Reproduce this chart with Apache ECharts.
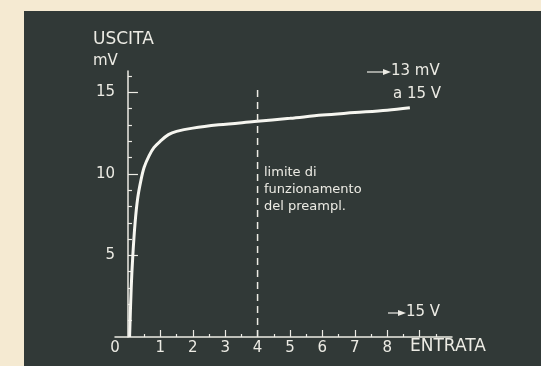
<!DOCTYPE html>
<html>
<head>
<meta charset="utf-8">
<script src="https://cdn.jsdelivr.net/npm/echarts@6/dist/echarts.min.js"></script>
<style>
  html, body { margin: 0; padding: 0; background: #f5ead2; }
  #panel { position: absolute; left: 24px; top: 11px; width: 517px; height: 355px; background: #313937; }
  #chart { position: absolute; left: 0; top: 0; width: 541px; height: 366px; }
</style>
</head>
<body>
<div id="panel"></div>
<div id="chart"></div>
<script>
// Input voltage (V) against output (mV) of the preamplifier
const entrata = [0.05, 0.1, 0.15, 0.22, 0.3, 0.4, 0.5, 0.65, 0.8, 1.0, 1.25, 1.5, 2.0, 2.8, 3.9, 5.0, 6.0, 7.0, 8.0, 8.7];
const uscita  = [0, 3, 5, 7, 8.5, 9.6, 10.4, 11.1, 11.6, 12.0, 12.4, 12.6, 12.8, 13.0, 13.2, 13.4, 13.6, 13.75, 13.9, 14.05];

// Operating limit of the preamplifier
const limiteX = 4;
const limiteTop = 15.3;

// Axis ticks and labels
const xLabels = [0, 1, 2, 3, 4, 5, 6, 7, 8];
const xMajorTicks = [1, 2, 3, 4, 5, 6, 7, 8, 9];
const xMinorTicks = [0.5, 1.5, 2.5, 3.5, 4.5, 5.5, 6.5, 7.5, 8.5, 9.5];
const yLabels = [5, 10, 15];
const yMinorTicks = [1, 2, 3, 4, 6, 7, 8, 9, 11, 12, 13, 14, 16];

const ink = '#ecebe4';
const font = 'DejaVu Sans';

const chart = echarts.init(document.getElementById('chart'), null, { renderer: 'canvas' });

const axisText = { color: ink, fontFamily: font, fontSize: 15 };

chart.setOption({
  backgroundColor: 'transparent',
  animation: false,
  grid: { left: 115, right: 89, top: 71, bottom: 29 },
  xAxis: [
    {
      type: 'value', min: -0.4, max: 10, position: 'bottom',
      axisLine: { lineStyle: { color: ink, width: 1.5 } },
      axisTick: { inside: true, length: 7, customValues: xMajorTicks, lineStyle: { color: ink, width: 1.2 } },
      axisLabel: Object.assign({
        customValues: xLabels, margin: 4,
        formatter: v => v === 0 ? '{z|0}' : String(v),
        rich: { z: { padding: [0, 26, 0, 0], color: ink, fontFamily: font, fontSize: 15 } }
      }, axisText),
      splitLine: { show: false }
    },
    {
      type: 'value', min: -0.4, max: 10, position: 'bottom',
      axisLine: { show: false },
      axisTick: { inside: true, length: 3, customValues: xMinorTicks, lineStyle: { color: ink, width: 1.2 } },
      axisLabel: { show: false },
      splitLine: { show: false }
    }
  ],
  yAxis: [
    {
      type: 'value', min: 0, max: 16.3, position: 'left',
      axisLine: { lineStyle: { color: ink, width: 1.5 } },
      axisTick: { inside: true, length: 10, customValues: yLabels, lineStyle: { color: ink, width: 1.2 } },
      axisLabel: Object.assign({ customValues: yLabels, margin: 0 }, axisText),
      splitLine: { show: false }
    },
    {
      type: 'value', min: 0, max: 16.3, position: 'left',
      axisLine: { show: false },
      axisTick: { inside: true, length: 4, customValues: yMinorTicks, lineStyle: { color: ink, width: 1.2 } },
      axisLabel: { show: false },
      splitLine: { show: false }
    }
  ],
  series: [
    {
      type: 'line',
      data: entrata.map((x, i) => [x, uscita[i]]),
      smooth: 0.35,
      symbol: 'none',
      lineStyle: { color: '#f6f6f0', width: 3 }
    },
    {
      type: 'line',
      data: [[limiteX, 0], [limiteX, limiteTop]],
      symbol: 'none',
      lineStyle: { color: ink, width: 1.5, type: [7, 5] }
    }
  ],
  graphic: [
    { type: 'text', left: 93, top: 31, style: { text: 'USCITA', fill: ink, font: '17px ' + font } },
    { type: 'text', left: 93, top: 54, style: { text: 'mV', fill: ink, font: '15px ' + font } },
    { type: 'text', left: 410, top: 338, style: { text: 'ENTRATA', fill: ink, font: '17px ' + font } },
    { type: 'text', left: 264, top: 164, style: { text: 'limite di\nfunzionamento\ndel preampl.', fill: ink, font: '13px ' + font, lineHeight: 17 } },
    // annotation arrows
    { type: 'line', shape: { x1: 367, y1: 72, x2: 384, y2: 72 }, style: { stroke: ink, lineWidth: 1.2 } },
    { type: 'polygon', shape: { points: [[383, 69], [391, 72], [383, 75]] }, style: { fill: ink } },
    { type: 'text', left: 391, top: 64, style: { text: '13 mV', fill: ink, font: '15px ' + font } },
    { type: 'text', left: 393, top: 87, style: { text: 'a 15 V', fill: ink, font: '15px ' + font } },
    { type: 'line', shape: { x1: 388, y1: 313, x2: 399, y2: 313 }, style: { stroke: ink, lineWidth: 1.2 } },
    { type: 'polygon', shape: { points: [[398, 310], [406, 313], [398, 316]] }, style: { fill: ink } },
    { type: 'text', left: 406, top: 305, style: { text: '15 V', fill: ink, font: '15px ' + font } }
  ]
});
</script>
</body>
</html>
